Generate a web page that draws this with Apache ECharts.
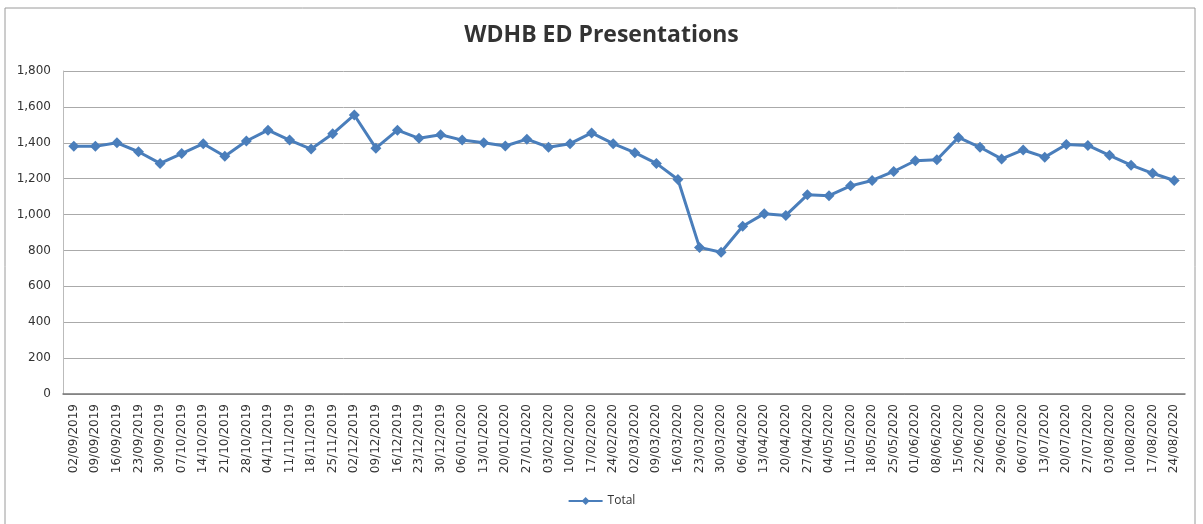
<!DOCTYPE html>
<html><head><meta charset="utf-8">
<script src="https://cdn.jsdelivr.net/npm/echarts@6/dist/echarts.min.js"></script>
<style>html,body{margin:0;padding:0;background:#fff}#c{width:1203px;height:524px}</style>
</head><body><div id="c"></div>
<script>
const categories = ["02/09/2019","09/09/2019","16/09/2019","23/09/2019","30/09/2019","07/10/2019","14/10/2019","21/10/2019","28/10/2019","04/11/2019","11/11/2019","18/11/2019","25/11/2019","02/12/2019","09/12/2019","16/12/2019","23/12/2019","30/12/2019","06/01/2020","13/01/2020","20/01/2020","27/01/2020","03/02/2020","10/02/2020","17/02/2020","24/02/2020","02/03/2020","09/03/2020","16/03/2020","23/03/2020","30/03/2020","06/04/2020","13/04/2020","20/04/2020","27/04/2020","04/05/2020","11/05/2020","18/05/2020","25/05/2020","01/06/2020","08/06/2020","15/06/2020","22/06/2020","29/06/2020","06/07/2020","13/07/2020","20/07/2020","27/07/2020","03/08/2020","10/08/2020","17/08/2020","24/08/2020"];
const totalValues = [1380,1380,1400,1350,1285,1340,1395,1325,1410,1470,1415,1365,1450,1555,1370,1470,1425,1445,1415,1400,1382,1420,1375,1395,1455,1395,1345,1285,1195,817,790,935,1005,995,1110,1105,1160,1190,1240,1300,1305,1430,1375,1310,1360,1320,1390,1385,1330,1275,1230,1190];
const yTicks = { min: 0, max: 1800, interval: 200 };

const chart = echarts.init(document.getElementById('c'));
chart.setOption({
  backgroundColor: '#fff',
  animation: false,
  graphic: [{type:'rect', shape:{x:5,y:8,width:1190,height:520}, style:{fill:'none', stroke:'#9a9a9a', lineWidth:1}, silent:true}],
  title: { text: 'WDHB ED Presentations', left: 'center', top: 19,
    textStyle: { fontFamily: 'Open Sans', fontWeight: 'bold', fontSize: 23, color: '#333' } },
  legend: { bottom: 12, left: 'center', itemWidth: 34, itemHeight: 10, itemGap: 6,
    textStyle: { fontFamily: 'Open Sans', fontSize: 12, color: '#333' },
    data: ['Total'] },
  grid: { left: 63, right: 18, top: 71, bottom: 130 },
  xAxis: { type: 'category', data: categories, boundaryGap: true,
    axisLine: { lineStyle: { color: '#777', width: 1.5 } },
    axisTick: { show: false },
    axisLabel: { rotate: 90, interval: 0, fontFamily: 'DejaVu Sans', fontSize: 12, color: '#333', margin: 10 } },
  yAxis: { type: 'value', min: yTicks.min, max: yTicks.max, interval: yTicks.interval,
    axisLine: { show: true, lineStyle: { color: '#bbb' } },
    axisTick: { show: false },
    splitLine: { lineStyle: { color: '#aaa', width: 1 } },
    axisLabel: { fontFamily: 'DejaVu Sans', fontSize: 12, color: '#333', margin: 12,
      formatter: v => v.toLocaleString('en-US') } },
  series: [{ name: 'Total', type: 'line', data: totalValues,
    symbol: 'diamond', symbolSize: 11,
    lineStyle: { color: '#4a7ebb', width: 3 },
    itemStyle: { color: '#4a7ebb' } }]
});
</script></body></html>
